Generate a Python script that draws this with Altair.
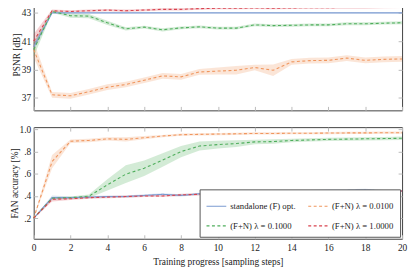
import altair as alt
import pandas as pd

steps = list(range(21))
series = ["standalone (F) opt.", "(F+N) λ = 0.0100", "(F+N) λ = 0.1000", "(F+N) λ = 1.0000"]
colors = ["#7b9bd1", "#f0965e", "#4fae5c", "#d9434f"]
dashes = [[1, 0], [3, 2.5], [3, 2.5], [3, 2.5]]

psnr_standalone = [40.6] + [43.0] * 20
psnr_l001 = [40.4, 37.2, 37.13, 37.42, 37.74, 37.93, 38.23, 38.54, 38.47, 38.82, 38.88,
             38.94, 39.13, 38.94, 39.53, 39.62, 39.64, 39.80, 39.64, 39.71, 39.74]
psnr_l01 = [40.4, 43.1, 42.8, 42.77, 42.3, 41.87, 41.99, 41.8, 41.94, 42.01, 41.92,
            41.92, 42.15, 42.1, 42.12, 42.15, 42.15, 42.23, 42.23, 42.27, 42.3]
psnr_l1 = [41.0, 43.15, 43.1, 43.15, 43.2, 43.15, 43.2, 43.25, 43.25, 43.3, 43.33,
           43.33, 43.35, 43.33, 43.35, 43.37, 43.37, 43.38, 43.38, 43.4, 43.42]
psnr_hw_standalone = [0.3] + [0.03] * 20
psnr_hw_l001 = [0.55, 0.2, 0.2, 0.2, 0.2, 0.2, 0.2, 0.2, 0.2, 0.2, 0.25,
                0.3, 0.2, 0.4, 0.2, 0.2, 0.2, 0.2, 0.2, 0.2, 0.2]
psnr_hw_l01 = [0.5, 0.1, 0.15, 0.15, 0.15, 0.12, 0.1, 0.12, 0.1, 0.1, 0.1,
               0.1, 0.1, 0.1, 0.1, 0.1, 0.1, 0.1, 0.1, 0.1, 0.1]
psnr_hw_l1 = [0.5] + [0.08] * 20

acc_standalone = [0.2, 0.385, 0.385, 0.39, 0.395, 0.395, 0.405, 0.415, 0.405, 0.42, 0.43,
                  0.43, 0.435, 0.435, 0.44, 0.445, 0.45, 0.45, 0.455, 0.445, 0.445]
acc_l001 = [0.2, 0.71, 0.893, 0.9, 0.915, 0.91, 0.925, 0.94, 0.952, 0.955, 0.958,
            0.96, 0.963, 0.963, 0.965, 0.965, 0.967, 0.968, 0.968, 0.97, 0.97]
acc_l01 = [0.2, 0.38, 0.385, 0.398, 0.5, 0.596, 0.65, 0.724, 0.8, 0.85, 0.863,
           0.872, 0.887, 0.89, 0.9, 0.905, 0.91, 0.912, 0.915, 0.917, 0.92]
acc_l1 = [0.2, 0.37, 0.375, 0.385, 0.39, 0.395, 0.4, 0.4, 0.41, 0.415, 0.42,
          0.425, 0.43, 0.435, 0.435, 0.44, 0.44, 0.445, 0.445, 0.445, 0.445]
acc_hw_standalone = [0.005, 0.02] + [0.01] * 19
acc_hw_l001 = [0.005, 0.06, 0.015, 0.015, 0.015, 0.02, 0.015] + [0.01] * 14
acc_hw_l01 = [0.005, 0.01, 0.01, 0.015, 0.05, 0.08, 0.07, 0.06, 0.05, 0.04, 0.035,
              0.03, 0.02, 0.02, 0.015, 0.015, 0.015, 0.015, 0.015, 0.015, 0.015]
acc_hw_l1 = [0.005, 0.02] + [0.01] * 19

x_ticks = list(range(0, 21, 2))
psnr_ticks = [37, 39, 41, 43]
acc_ticks = [0.2, 0.4, 0.6, 0.8, 1.0]


def long_df(means, hws):
    rows = []
    for name, m, h in zip(series, means, hws):
        for s, v, e in zip(steps, m, h):
            rows.append({"series": name, "step": s, "val": v, "lo": v - e, "hi": v + e})
    return pd.DataFrame(rows)


psnr_df = long_df([psnr_standalone, psnr_l001, psnr_l01, psnr_l1],
                  [psnr_hw_standalone, psnr_hw_l001, psnr_hw_l01, psnr_hw_l1])
acc_df = long_df([acc_standalone, acc_l001, acc_l01, acc_l1],
                 [acc_hw_standalone, acc_hw_l001, acc_hw_l01, acc_hw_l1])

W, H = 373, 113
FONT = "Liberation Serif"
TICKC = "#bbbbbb"

xscale = alt.Scale(domain=[0, 20], nice=False, zero=False)
color_scale = alt.Scale(domain=series, range=colors)
dash_scale = alt.Scale(domain=series, range=dashes)

leg = alt.Legend(title=None, orient="bottom-right", offset=2, columns=2, direction="horizontal",
                 symbolType="stroke", symbolSize=400, symbolStrokeWidth=1.2,
                 labelFont=FONT, labelFontSize=8.8, labelColor="#222", labelOffset=3,
                 labelLimit=300, strokeColor="#555", fillColor="white",
                 padding=6, columnPadding=9, rowPadding=4)


def tick_axis(orient, vals):
    return alt.Axis(orient=orient, values=vals, labels=False, ticks=True, tickSize=4,
                    tickColor=TICKC, tickWidth=1, offset=-4, domain=False, grid=False,
                    title=None)


def panel(df, ydomain, yvals, ytitle, label_expr, show_x):
    yscale = alt.Scale(domain=ydomain, nice=False, zero=False)
    base = alt.Chart(df)
    yaxis = alt.Axis(orient="left", values=yvals, grid=False, ticks=True, tickSize=4,
                     tickColor=TICKC, tickWidth=1, offset=-4, domain=False, title=ytitle,
                     labelFont=FONT, labelFontSize=9.5, labelColor="#222", labelPadding=3,
                     titleFont=FONT, titleFontSize=9.5, titleFontWeight="normal",
                     titleColor="#222", titlePadding=0, labelExpr=label_expr)
    if show_x:
        xaxis = alt.Axis(orient="bottom", values=x_ticks, grid=False, ticks=True, tickSize=4,
                         tickColor=TICKC, tickWidth=1, offset=-4, domain=False,
                         title="Training progress [sampling steps]",
                         labelFont=FONT, labelFontSize=9.5, labelColor="#222", labelPadding=4,
                         titleFont=FONT, titleFontSize=9.5, titleFontWeight="normal",
                         titleColor="#222", titlePadding=5, labelFlush=False)
        legend = leg
    else:
        xaxis = tick_axis("bottom", x_ticks)
        legend = None
    band = base.mark_area(opacity=0.25).encode(
        x=alt.X("step:Q", scale=xscale, axis=xaxis),
        y=alt.Y("lo:Q", scale=yscale, axis=yaxis),
        y2="hi:Q",
        fill=alt.Fill("series:N", scale=color_scale, legend=None),
    )
    line = base.mark_line(strokeWidth=1.1).encode(
        x=alt.X("step:Q", scale=xscale, axis=tick_axis("top", x_ticks)),
        y=alt.Y("val:Q", scale=yscale, axis=tick_axis("right", yvals)),
        color=alt.Color("series:N", scale=color_scale, legend=legend),
        strokeDash=alt.StrokeDash("series:N", scale=dash_scale, legend=legend),
    )
    return alt.layer(band, line).resolve_axis(x="independent", y="independent").properties(
        width=W, height=H)


top = panel(psnr_df, [36.1, 44.0], psnr_ticks, "PSNR [dB]", "datum.label", False)
bottom = panel(acc_df, [0.015, 1.02], acc_ticks, "FAN accuracy [%]",
               "datum.value >= 0.99 ? '1.0' : '.' + format(datum.value * 10, 'd')", True)

chart = alt.vconcat(top, bottom, spacing=12).resolve_legend(
    color="independent", strokeDash="independent"
).properties(
    padding={"left": 0, "top": -12, "right": 0, "bottom": 0},
    background="white",
).configure_view(stroke="#404040", strokeWidth=1)

chart.save("out.html", embed_options={"renderer": "svg", "actions": False})
